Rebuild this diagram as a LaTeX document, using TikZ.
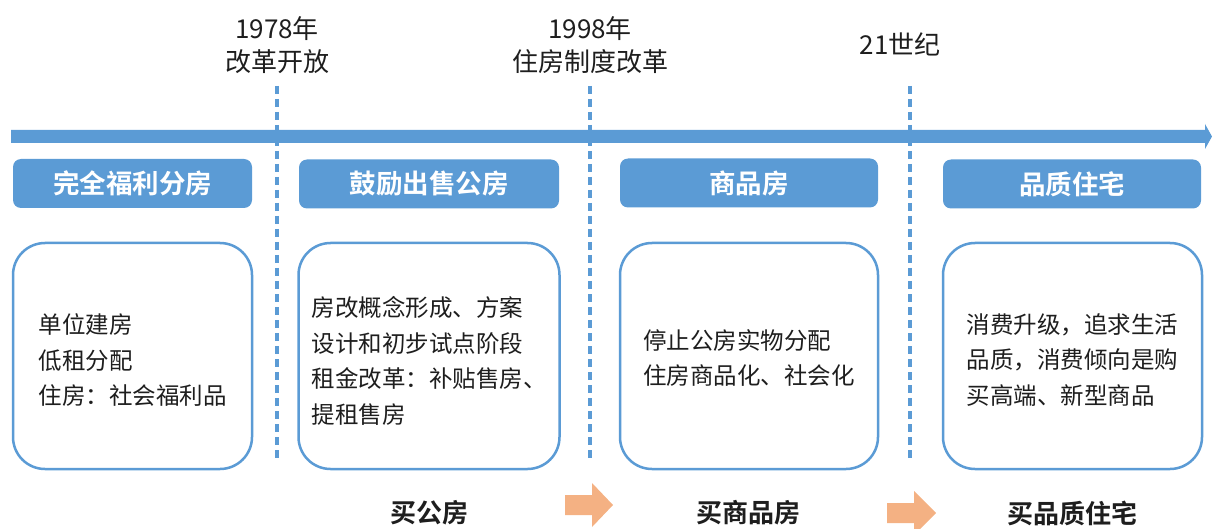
\documentclass[tikz,border=0pt]{standalone}
\usepackage{fontspec}
\setmainfont{Noto Sans CJK SC}
\newfontfamily\cjkb{Noto Sans CJK SC Bold}
\definecolor{tlblue}{HTML}{5B9BD5}
\definecolor{tlorange}{HTML}{F4B183}
\definecolor{tltext}{HTML}{1E1E1E}
\begin{document}
\begin{tikzpicture}[x=1pt,y=-1pt,
  headbox/.style={fill=tlblue, draw=none, rounded corners=8pt, text=white,
    font=\cjkb\fontsize{26.5}{30}\selectfont, minimum height=49pt, inner sep=0pt},
  contentbox/.style={draw=tlblue, line width=2.5pt, rounded corners=32pt, fill=white,
    minimum height=226pt, inner sep=0pt},
  contenttext/.style={inner sep=0pt, align=left, text=tltext,
    font=\fontsize{23.5}{35.5}\selectfont},
  toplabel/.style={align=center, text=tltext, font=\fontsize{26}{33}\selectfont, inner sep=0pt},
  buylabel/.style={text=tltext, font=\cjkb\fontsize{26}{30}\selectfont, inner sep=0pt},
  era/.style={draw=tlblue, line width=3.5pt, dash pattern=on 8pt off 5pt},
  bigarrow/.style={fill=tlorange, draw=none}
]
\useasboundingbox (0,0) rectangle (1212,529);
% timeline
\fill[tlblue] (11,130) -- (1205,130) -- (1205,124) -- (1212,136.5) -- (1205,149) -- (1205,143) -- (11,143) -- cycle;
% era dashed lines
\coordinate (d1t) at (277,86); \coordinate (d1b) at (277,458);
\coordinate (d2t) at (590,86); \coordinate (d2b) at (590,458);
\coordinate (d3t) at (910,86); \coordinate (d3b) at (910,458);
\draw[era] (d1t) -- (d1b);
\draw[era] (d2t) -- (d2b);
\draw[era] (d3t) -- (d3b);
% top labels
\node[toplabel] (y1978) at (277,45) {1978年\\改革开放};
\node[toplabel] (y1998) at (590,45) {1998年\\住房制度改革};
\node[toplabel] (y21) at (900,44) {21世纪};
% header boxes
\node[headbox, minimum width=239pt] (h1) at (132.5,183.5) {完全福利分房};
\node[headbox, minimum width=260pt] (h2) at (429,184) {鼓励出售公房};
\node[headbox, minimum width=258pt] (h3) at (749,183) {商品房};
\node[headbox, minimum width=258pt] (h4) at (1072,184) {品质住宅};
% content boxes
\node[contentbox, minimum width=239pt] (c1) at (132.5,356) {};
\node[contentbox, minimum width=261pt] (c2) at (429,356) {};
\node[contentbox, minimum width=258pt] (c3) at (749,356) {};
\node[contentbox, minimum width=259pt] (c4) at (1072.5,356) {};
\node[contenttext] (t1) at ([yshift=-4pt]c1.center) {单位建房\\低租分配\\住房：社会福利品};
\node[contenttext] (t2) at ([yshift=-5pt]c2.center) {房改概念形成、方案\\设计和初步试点阶段\\租金改革：补贴售房、\\提租售房};
\node[contenttext] (t3) at ([yshift=-2pt]c3.center) {停止公房实物分配\\住房商品化、社会化};
\node[contenttext] (t4) at ([yshift=-4pt]c4.center) {消费升级，追求生活\\品质，消费倾向是购\\买高端、新型商品};
% bottom labels
\node[buylabel] (b1) at (429,513) {买公房};
\node[buylabel] (b2) at (748,513) {买商品房};
\node[buylabel] (b3) at (1072,513) {买品质住宅};
% orange arrows
\fill[bigarrow] (565,495) -- (592,495) -- (592,483) -- (613,505) -- (592,527) -- (592,515) -- (565,515) -- cycle;
\fill[bigarrow] (887,503) -- (914,503) -- (914,491) -- (936,513) -- (914,535) -- (914,523) -- (887,523) -- cycle;
\end{tikzpicture}
\end{document}
